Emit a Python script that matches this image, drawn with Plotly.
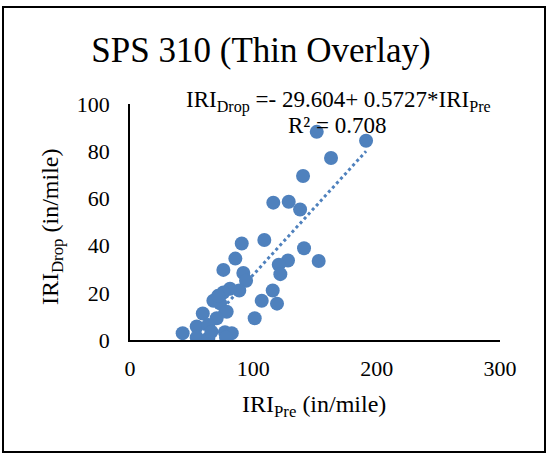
import plotly.graph_objects as go

# Data
iri_pre = [151.4, 191.4, 163.0, 140.3, 116.2, 128.7, 137.9, 90.6, 108.9, 85.4,
           141.1, 153.0, 128.1, 120.6, 121.9, 75.7, 91.9, 94.1, 88.6, 81.1,
           75.7, 115.7, 106.8, 119.2, 101.1, 67.6, 73.0, 78.4, 59.0, 70.3,
           54.1, 63.5, 42.7, 54.1, 63.5, 77.0, 82.5, 77.9, 71.4, 66.0]
iri_drop = [88.2, 84.4, 77.1, 69.5, 58.2, 58.6, 55.3, 40.9, 42.4, 34.5,
            38.9, 33.5, 33.7, 31.9, 27.9, 29.7, 28.4, 25.1, 21.0, 21.7,
            20.1, 21.0, 16.6, 15.4, 9.2, 16.6, 15.6, 12.0, 11.2, 9.2,
            5.7, 6.4, 2.9, 1.1, 0.7, 3.3, 2.9, 1.1, 18.7, 3.5]

intercept = -29.604
slope = 0.5727
x_ticks = [0, 100, 200, 300]
y_ticks = [0, 20, 40, 60, 80, 100]

W, H = 547, 454
L, R, T, B = 130, 47, 104, 114
pw = W - L - R
ph = H - T - B

xmin, xmax = min(iri_pre), max(iri_pre)
trend_x = [xmin + (xmax - xmin) * i / 100 for i in range(101)]
trend_y = [intercept + slope * v for v in trend_x]

blue = "#4f81bd"
font_fam = "Liberation Serif, Times New Roman, serif"

fig = go.Figure()
fig.add_trace(go.Scatter(x=trend_x, y=trend_y, mode="lines",
                         line=dict(color=blue, width=3, dash="dot"),
                         hoverinfo="skip", showlegend=False))
fig.add_trace(go.Scatter(x=iri_pre, y=iri_drop, mode="markers",
                         marker=dict(color=blue, size=14, line=dict(width=0)),
                         showlegend=False))

def px_x(px):
    return (px - L) / pw

def px_y(py):
    return (H - B - py) / ph

fig.update_layout(
    width=W, height=H,
    margin=dict(l=L, r=R, t=T, b=B),
    paper_bgcolor="white", plot_bgcolor="white",
    font=dict(family=font_fam, color="black"),
    title=dict(text="SPS 310 (Thin Overlay)", font=dict(size=35, family=font_fam, color="black"),
               x=261 / W, xref="container", xanchor="center",
               y=1 - 50 / H, yref="container", yanchor="middle"),
    xaxis=dict(range=[0, 300], tickvals=x_ticks, showgrid=False, zeroline=False,
               showline=True, linecolor="black", linewidth=1.5, ticks="",
               tickfont=dict(size=22, family=font_fam, color="black"),
               ticklabelstandoff=8, fixedrange=True),
    yaxis=dict(range=[0, 100], tickvals=y_ticks, showgrid=False, zeroline=False,
               showline=True, linecolor="black", linewidth=1.5, ticks="",
               tickfont=dict(size=22, family=font_fam, color="black"),
               ticklabelstandoff=14, fixedrange=True),
    shapes=[dict(type="rect", xref="paper", yref="paper",
                 x0=px_x(3), x1=px_x(545), y0=px_y(452), y1=px_y(7),
                 line=dict(color="black", width=2), fillcolor="rgba(0,0,0,0)", layer="below")],
    annotations=[
        dict(text="IRI<sub>Drop</sub> =- 29.604+ 0.5727*IRI<sub>Pre</sub>", xref="paper", yref="paper",
             x=px_x(338), y=px_y(101), xanchor="center", yanchor="middle", showarrow=False,
             font=dict(size=23, family=font_fam, color="black")),
        dict(text="R² = 0.708", xref="paper", yref="paper",
             x=px_x(337), y=px_y(125), xanchor="center", yanchor="middle", showarrow=False,
             font=dict(size=23, family=font_fam, color="black")),
        dict(text="IRI<sub>Pre</sub> (in/mile)", xref="paper", yref="paper",
             x=px_x(314), y=px_y(406), xanchor="center", yanchor="middle", showarrow=False,
             font=dict(size=24, family=font_fam, color="black")),
        dict(text="IRI<sub>Drop</sub> (in/mile)", xref="paper", yref="paper", textangle=-90,
             x=px_x(52), y=px_y(227), xanchor="center", yanchor="middle", showarrow=False,
             font=dict(size=24, family=font_fam, color="black")),
    ],
)

fig.write_html("out.html")
